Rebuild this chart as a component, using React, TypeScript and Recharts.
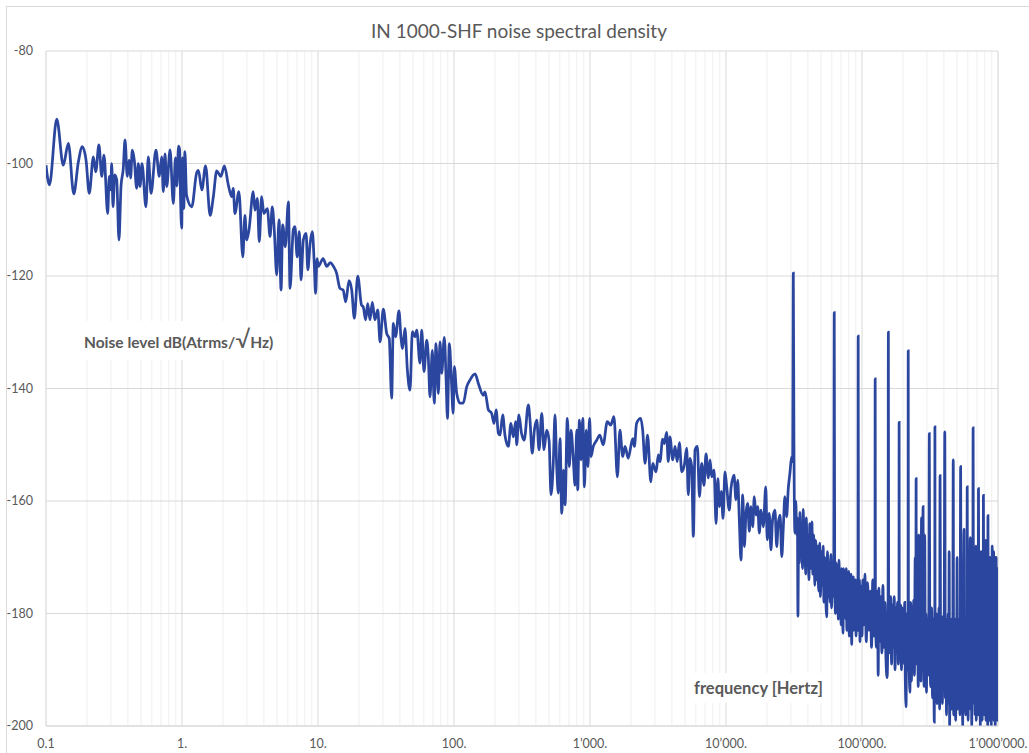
import React from 'react';
import { LineChart, Line, XAxis, YAxis, CartesianGrid } from 'recharts';

// Frequency axis (Hz, logarithmic) and level axis (dB)
const decadeTicks = [0.1, 1, 10, 100, 1000, 10000, 100000, 1000000];
const minorTicks = [
  0.2, 0.3, 0.4, 0.5, 0.6, 0.7, 0.8, 0.9,
  2, 3, 4, 5, 6, 7, 8, 9,
  20, 30, 40, 50, 60, 70, 80, 90,
  200, 300, 400, 500, 600, 700, 800, 900,
  2000, 3000, 4000, 5000, 6000, 7000, 8000, 9000,
  20000, 30000, 40000, 50000, 60000, 70000, 80000, 90000,
  200000, 300000, 400000, 500000, 600000, 700000, 800000, 900000,
];
const levelTicks = [-200, -180, -160, -140, -120, -100, -80];

const chartTitle = 'IN 1000-SHF noise spectral density';
const yLabel = 'Noise level dB(Atrms/';
const xLabel = 'frequency [Hertz]';

// [frequency Hz, noise level dB]
const decade0: [number, number][] = [
  [0.1, -100.3], [0.106, -103.8], [0.12, -92.1], [0.134, -100.3], [0.146, -96.4], [0.16, -105.4],
  [0.173, -99.7], [0.185, -97.0], [0.197, -99.4], [0.208, -105.3], [0.223, -98.8], [0.232, -101.5],
  [0.245, -96.7], [0.257, -102.3], [0.267, -98.5], [0.284, -108.9], [0.292, -102.3], [0.299, -104.7],
  [0.304, -100], [0.311, -107.7], [0.32, -102], [0.331, -102.9], [0.344, -113.6], [0.356, -104.1],
  [0.37, -100.9], [0.381, -95.8], [0.396, -102.3], [0.409, -99.4], [0.419, -102.6], [0.431, -97.6],
  [0.446, -99.4], [0.464, -104.4], [0.477, -100], [0.491, -104.1], [0.508, -100], [0.543, -107.7],
  [0.565, -98.8], [0.592, -105.3], [0.643, -97.6], [0.681, -102.3], [0.709, -98.8], [0.729, -105],
  [0.75, -98.3], [0.772, -104.1], [0.817, -97.6], [0.863, -107.1], [0.895, -99], [0.917, -104],
  [0.943, -96.9], [0.96, -97.5], [0.975, -106], [0.995, -111.5],
];
const decade1: [number, number][] = [
  [1.01, -99], [1.03, -108], [1.05, -97.9], [1.08, -105.6], [1.18, -107.7], [1.28, -101.7],
  [1.32, -101.2], [1.4, -104.7], [1.49, -100.4], [1.61, -109.2], [1.7, -105.9], [1.8, -101.3],
  [1.93, -102.3], [2.05, -100.4], [2.19, -103.8], [2.32, -105.9], [2.38, -104.4], [2.45, -108.9],
  [2.62, -105], [2.8, -116.6], [2.9, -109.2], [2.99, -113.6], [3.11, -111.8], [3.34, -105],
  [3.44, -108.3], [3.58, -106.2], [3.7, -113.9], [3.85, -105.9], [4.0, -108.9], [4.24, -108],
  [4.44, -113], [4.61, -107.7], [4.77, -111.8], [4.97, -119.8], [5.17, -110], [5.35, -122.5],
  [5.5, -110.9], [5.75, -114.8], [6.06, -106.8], [6.23, -122.2], [6.58, -111.8], [6.77, -111.2],
  [7.03, -116.6], [7.29, -112.1], [7.5, -120.7], [7.8, -113.6], [8.17, -112.4], [8.42, -118.9],
  [8.75, -114.2], [9.08, -112.1], [9.38, -117.7], [9.6, -123.1], [9.84, -116.9], [10.05, -118.3],
];
const decade2: [number, number][] = [
  [10.9, -116.9], [11.6, -118.3], [12.3, -117.6], [13.0, -118.3], [13.7, -119.5], [14.5, -122.2],
  [15.3, -122.5], [16.0, -124.6], [16.9, -120.8], [17.7, -122.5], [18.5, -127.5], [19.6, -120],
  [20.9, -125.2], [21.5, -125.5], [22.4, -127.8], [23.2, -124.9], [24.1, -127.8], [25.1, -124.7],
  [26.2, -127.8], [27.5, -126], [28.6, -131.7], [30.2, -125.9], [32.0, -130.2], [33.4, -131.1],
  [34.8, -141.7], [35.8, -128.4], [37.2, -130.8], [39.4, -126.2], [40.7, -130.8], [41.9, -132.9],
  [43.6, -129.3], [45.4, -136.7], [47.5, -140.3], [49.4, -129.9], [51.7, -130.8], [53.2, -129.6],
  [56.2, -135.5], [57.9, -129.6], [60.2, -137], [63.0, -131.4], [64.7, -134.3], [66.6, -141.5],
  [69.3, -133.2], [71.6, -142.6], [73.7, -132], [76.7, -140.9], [78.9, -131.7], [81.2, -137.3],
  [84.9, -130.9], [87.5, -138.5], [89.5, -145.3], [92.4, -132], [95.7, -138.5], [98.6, -144.4],
  [100.5, -136.1],
];
const decade3: [number, number][] = [
  [104.7, -140.9], [110.7, -142.6], [117, -142.6], [124, -139.7], [131, -138.5], [143, -137.4],
  [151, -139.1], [164, -141.2], [169, -140.6], [179, -143.8], [189, -144.4], [197, -146.2],
  [204, -143.8], [212, -148], [218, -148.3], [228, -144.7], [237, -148.3], [251, -150.3],
  [262, -146.2], [273, -148.6], [284, -145.9], [289, -150], [300, -144.7], [314, -148],
  [328, -149.2], [352, -142.9], [362, -145.6], [376, -151.5], [390, -147.4], [406, -145.6],
  [422, -150.9], [442, -144.4], [459, -150.9], [480, -147.4], [500, -149.2], [517, -158.9],
  [537, -153.3], [553, -144.7], [569, -153.9], [585, -158.6], [602, -148.9], [620, -162.2],
  [638, -154.5], [656, -160.7], [681, -145.3], [704, -153.9], [725, -147.4], [754, -152.7],
  [776, -157.2], [799, -147.4], [812, -158], [836, -145.6], [860, -152.7], [885, -145.3],
  [910, -157.5], [937, -147.4], [965, -153.9], [993, -145.3],
];
const decade4: [number, number][] = [
  [1017, -152.1], [1057, -150.3], [1120, -149.2], [1180, -148.3], [1250, -150], [1340, -145.9],
  [1420, -146.5], [1500, -145], [1590, -155.7], [1660, -147.4], [1740, -152.1], [1810, -150.3],
  [1910, -152.4], [2060, -148.9], [2120, -150.3], [2200, -146.2], [2360, -145.3], [2440, -147.4],
  [2540, -153.3], [2650, -148.3], [2800, -156.6], [2890, -153.3], [3060, -154.8], [3180, -151.8],
  [3270, -153], [3420, -149], [3520, -149.8], [3660, -147.8], [3760, -153], [3870, -148.6],
  [4060, -152.7], [4220, -150.3], [4380, -153], [4540, -149.6], [4730, -154.8], [4940, -153.6],
  [5140, -150.6], [5280, -158.9], [5430, -152.4], [5600, -153.9], [5750, -166.3], [5920, -150.9],
  [6160, -150.3], [6380, -159.2], [6630, -153.3], [6890, -157.2], [7130, -151.6], [7420, -155.9],
  [7630, -152.7], [7850, -155.7], [8170, -154.5], [8450, -164], [8710, -156], [8950, -161],
  [9240, -158.3], [9510, -163.1], [9830, -154.8],
];
const decade5: [number, number][] = [
  [10120, -157.5], [10570, -161.6], [10880, -157.8], [11450, -155.4], [11840, -159.8], [12190, -156.3],
  [12530, -163.4], [12890, -170.5], [13270, -158.9], [13640, -168.1], [14030, -162.2], [14440, -160.4],
  [14840, -165.4], [15270, -161], [15710, -164.6], [16150, -159.2], [16620, -162.5], [17110, -161],
  [17580, -165.7], [18090, -161.6], [18800, -164.6], [19600, -157.5], [20100, -166.9], [20800, -162.2],
  [21400, -168.7], [22000, -163.4], [22900, -161.6], [23600, -168.1], [24200, -164], [25000, -162.5],
  [25700, -169.9], [26400, -164.6], [27100, -159.2], [27900, -162.8], [28700, -157.8], [29500, -155.1],
  [30400, -152.1], [30900, -153], [31250, -119.5], [31600, -150], [32100, -165.7], [32600, -160],
  [33100, -166], [33500, -163], [33800, -180.5], [34200, -166], [34600, -171], [35000, -162],
  [35500, -170], [36000, -164], [36500, -172], [37000, -161.5], [37500, -169], [38000, -165],
  [38500, -173], [39000, -163], [39500, -171], [40000, -166], [40700, -174], [41300, -164],
  [42000, -172], [42800, -163.7], [43500, -173], [44200, -166], [45000, -175], [45700, -167],
  [46500, -174], [47200, -168], [48000, -176], [48800, -167.5], [49500, -177], [50300, -169],
  [51000, -175], [51800, -168], [52500, -178], [53300, -170], [54000, -176], [55000, -180.6],
  [55800, -169], [56600, -177], [57400, -171], [58200, -178], [59000, -169.5], [59800, -179],
  [60600, -171], [61400, -177], [62000, -172], [62500, -126.5], [63000, -173], [63800, -180],
  [64600, -171], [65400, -178], [66200, -172], [67000, -181], [67800, -170.5], [68600, -179],
  [69400, -173], [70200, -182], [71000, -172], [71800, -178], [72500, -183.5], [73300, -172],
  [74100, -180], [75000, -173.5], [75800, -181], [76600, -172], [77400, -183], [78200, -174],
  [79000, -180], [79800, -172.5], [80600, -184], [81400, -174], [82200, -181], [83000, -173],
  [84000, -185.5], [84800, -174], [85600, -182], [86400, -173.5], [87200, -183], [88000, -175],
  [88800, -181], [89600, -174], [90400, -184], [91200, -175], [92000, -182], [92800, -174],
  [93300, -183], [93750, -130.7], [94200, -176], [95000, -183], [95800, -174], [96600, -185],
  [97400, -175], [98200, -182], [99000, -176], [100000, -184],
];
const decade6a: [number, number][] = [
  [101500, -174], [103000, -182], [105000, -173], [107500, -185], [110000, -174.5], [112500, -183],
  [115000, -176], [117500, -186], [120000, -174], [122500, -184], [124500, -177], [125000, -138.3],
  [125500, -178], [127500, -186], [130000, -176], [131500, -191], [133000, -175.5], [135000, -185],
  [137500, -177], [140000, -187], [142500, -175], [145000, -186], [147500, -178], [150000, -188],
  [153000, -191.4], [155500, -178], [156250, -130], [157000, -179], [160000, -187], [162500, -177],
  [165000, -189], [167500, -178.5], [170000, -186], [172500, -177], [175000, -190], [177500, -179],
  [180000, -187], [182500, -178], [185000, -189], [187000, -179], [187500, -146], [188000, -180],
  [190000, -188], [192500, -178.5], [195000, -190], [197500, -179], [200000, -188],
  [202000, -181], [204000, -189], [206000, -178], [208000, -191], [211000, -196.6], [213000, -180],
  [215500, -190], [218000, -179], [218750, -133.3], [219500, -181], [222000, -189], [225000, -194],
  [228000, -178], [231000, -192], [234000, -179.5], [237000, -188], [240000, -177.6], [243000, -191],
  [246000, -170], [248000, -188], [249500, -165], [250000, -156], [250500, -172], [253000, -189],
  [256000, -176], [259000, -193], [262000, -166], [265000, -188], [268000, -179], [271000, -192],
  [274000, -163], [277000, -190], [279500, -170], [281250, -161], [283000, -180], [286000, -193],
  [289000, -166], [292000, -189], [295000, -180], [298000, -194], [300000, -181],
];
const decade6b: [number, number][] = [
  [305000, -191], [310000, -180], [312500, -148], [315000, -182], [320000, -193], [325000, -179],
  [330000, -195], [335000, -181], [340000, -199.3], [343000, -182], [343750, -146.8], [344500, -183],
  [348000, -193], [352000, -180], [356000, -196], [360000, -182], [364000, -192], [368000, -179],
  [372000, -197], [375000, -155.5], [378000, -183], [382000, -194], [386000, -181], [390000, -196],
  [394000, -180.5], [398000, -193], [402000, -183], [406250, -147.7], [410000, -195], [414000, -181],
  [418000, -198], [422000, -182], [426000, -193], [430000, -180], [434000, -196], [437500, -169],
  [441000, -200], [444000, -183], [448000, -194], [452000, -181], [456000, -197], [460000, -182],
  [464000, -195], [468750, -152.7], [472000, -198], [476000, -183], [480000, -194], [484000, -181],
  [488000, -199], [492000, -183], [496000, -195], [500000, -170], [504000, -197],
];
const decade6c: [number, number][] = [
  [510000, -182], [515000, -194], [520000, -181], [525000, -198], [531250, -153.9], [535000, -183],
  [540000, -196], [545000, -180], [550000, -200], [556000, -182], [562500, -165], [566000, -195],
  [572000, -181], [578000, -198], [584000, -183], [590000, -194], [593750, -157.5], [597000, -182],
  [603000, -199], [609000, -180], [615000, -195], [621000, -183], [625000, -166.5], [629000, -197],
  [635000, -181], [641000, -200], [647000, -182], [652000, -194], [656250, -147], [660000, -184],
  [666000, -196], [672000, -179], [678000, -198], [684000, -182], [687500, -168], [692000, -199],
  [698000, -181], [704000, -196], [710000, -176], [715000, -198], [718750, -157.8], [723000, -183],
  [729000, -197], [735000, -178], [741000, -200], [747000, -175], [750000, -169], [754000, -196],
  [760000, -179], [766000, -199], [772000, -174], [777000, -197], [781250, -159], [786000, -181],
  [792000, -198], [798000, -172], [804000, -196], [809000, -176], [812500, -167], [816000, -199],
  [822000, -178], [828000, -195], [834000, -171], [840000, -200], [843750, -162.6], [848000, -182],
  [854000, -197], [860000, -173], [866000, -199], [871000, -176], [875000, -170], [880000, -196],
  [886000, -178], [892000, -200], [898000, -172], [902000, -195], [906250, -168], [911000, -198],
  [917000, -175], [923000, -196], [929000, -169], [934000, -199], [937500, -171], [942000, -194],
  [948000, -174], [954000, -200], [960000, -170], [965000, -197], [968750, -170], [973000, -198],
  [979000, -175], [985000, -196], [990000, -172], [995000, -199], [1000000, -172],
];

const rows = [...decade0, ...decade1, ...decade2, ...decade3, ...decade4, ...decade5, ...decade6a, ...decade6b, ...decade6c]
  .map(([f, db]) => ({ f, db }));

const formatHz = (v: number) => {
  if (v < 1) return String(v);
  return Math.round(v).toString().replace(/\B(?=(\d{3})+(?!\d))/g, '\u2019') + '.';
};

const FONT = 'Lato, "Open Sans", "Liberation Sans", sans-serif';
const TEXT = '#595959';

export default function App() {
  return (
    <div style={{ position: 'absolute', left: 0, top: 0, width: 1029, height: 753, background: '#fff', overflow: 'hidden', fontFamily: FONT }}>
      <div style={{ position: 'absolute', left: 6, top: 6, width: 1100, height: 900, border: '1px solid #d9d9d9' }} />
      <LineChart
        width={1029}
        height={753}
        data={rows}
        margin={{ top: 51, right: 31, bottom: 0, left: 0 }}
        style={{ position: 'absolute', left: 0, top: 0 }}
      >
        <XAxis xAxisId="minor" dataKey="f" type="number" scale="log" domain={[0.1, 1000000]} allowDataOverflow ticks={minorTicks} interval={0} hide />
        <CartesianGrid xAxisId="minor" horizontal={false} stroke="#efefef" strokeWidth={1} />
        <CartesianGrid stroke="#d9d9d9" strokeWidth={1} />
        <XAxis
          dataKey="f"
          type="number"
          scale="log"
          domain={[0.1, 1000000]}
          allowDataOverflow
          ticks={decadeTicks}
          interval={0}
          tickFormatter={formatHz}
          axisLine={{ stroke: '#d9d9d9' }}
          tickLine={false}
          tickSize={0}
          tickMargin={13}
          height={27}
          tick={{ fill: TEXT, fontSize: 12.5, fontFamily: FONT }}
        />
        <YAxis
          type="number"
          domain={[-200, -80]}
          ticks={levelTicks}
          interval={0}
          allowDataOverflow
          axisLine={false}
          tickLine={false}
          tickSize={0}
          tickMargin={13}
          width={46}
          tick={{ fill: TEXT, fontSize: 12.5, fontFamily: FONT }}
        />
        <Line
          dataKey="db"
          type="monotone"
          stroke="#2B469E"
          strokeWidth={2.75}
          dot={false}
          activeDot={false}
          isAnimationActive={false}
        />
      </LineChart>
      <div style={{ position: 'absolute', left: 0, width: 1038, top: 19, textAlign: 'center', fontSize: 19, color: TEXT, lineHeight: '24px' }}>
        {chartTitle}
      </div>
      <div style={{ position: 'absolute', left: 76, top: 321, padding: '0 8px', background: '#fff', fontWeight: 700, fontSize: 15.5, color: TEXT, lineHeight: '36px', whiteSpace: 'nowrap' }}>
        {yLabel}
        <span style={{ fontSize: 24, fontWeight: 400 }}>{'\u221A'}</span>
        {'Hz)'}
      </div>
      <div style={{ position: 'absolute', left: 686, top: 673, padding: '0 8px', background: '#fff', fontWeight: 700, fontSize: 16.5, color: TEXT, lineHeight: '30px', whiteSpace: 'nowrap' }}>
        {xLabel}
      </div>
    </div>
  );
}
